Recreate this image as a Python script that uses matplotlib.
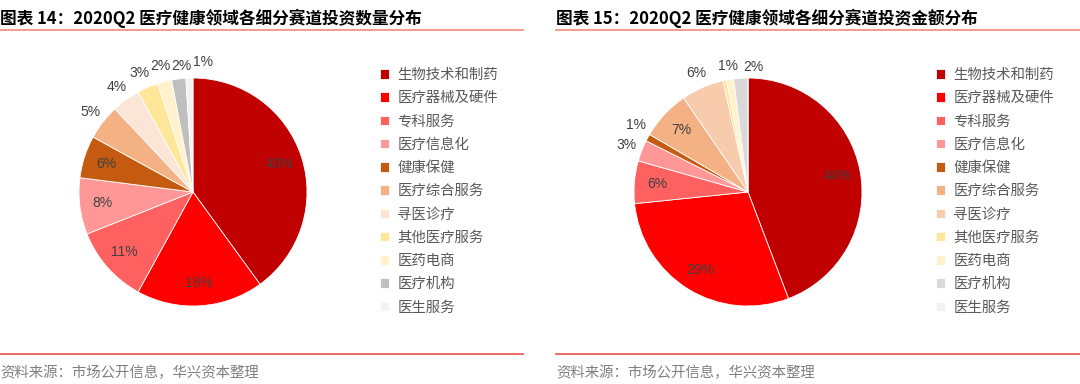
import matplotlib
matplotlib.use('Agg')
import matplotlib.pyplot as plt
import numpy as np

plt.rcParams['font.family'] = ['Noto Sans CJK SC', 'DejaVu Sans']

# Data
categories = ['生物技术和制药', '医疗器械及硬件', '专科服务', '医疗信息化', '健康保健',
              '医疗综合服务', '寻医诊疗', '其他医疗服务', '医药电商', '医疗机构', '医生服务']

count_share = [40, 18, 11, 8, 6, 5, 4, 3, 2, 2, 1]
count_labels = ['40%', '18%', '11%', '8%', '6%', '5%', '4%', '3%', '2%', '2%', '1%']

amount_share = [44, 29, 6, 3, 1, 7, 6, 0.5, 1, 2, 0]
amount_labels = ['44%', '29%', '6%', '3%', '1%', '7%', '6%', '', '1%', '2%', '']

left_colors = ['#C00000', '#FF0000', '#FF6161', '#FF9797', '#C55A11', '#F4B183',
               '#FBE5D6', '#FFE699', '#FFF2CC', '#BFBFBF', '#F2F2F2']
right_colors = ['#C00000', '#FF0000', '#FF6161', '#FF9797', '#C55A11', '#F4B183',
                '#F8CBAD', '#FFE699', '#FFF2CC', '#D9D9D9', '#F2F2F2']

titles = ['图表 14：2020Q2 医疗健康领域各细分赛道投资数量分布',
          '图表 15：2020Q2 医疗健康领域各细分赛道投资金额分布']
source = '资料来源：市场公开信息，华兴资本整理'

W, H = 1080, 384
fig = plt.figure(figsize=(W / 100, H / 100), dpi=100)


def px_axes(cx, cy, half):
    # square axes centred on pixel (cx, cy), top-left origin
    return fig.add_axes([(cx - half) / W, (H - cy - half) / H, 2 * half / W, 2 * half / H])


def draw_panel(x0, x1, cx, title, values, labels, colors, inside, nudges, legend_x):
    # title and rules
    fig.text(x0 / W, 1 - 18 / H, title, fontsize=12, fontweight='bold',
             color='#000000', ha='left', va='center')
    fig.add_artist(plt.Line2D([x0 / W, x1 / W], [1 - 30 / H] * 2, color='#F4877A', lw=1.2))
    fig.add_artist(plt.Line2D([x0 / W, x1 / W], [1 - 354 / H] * 2, color='#E8534A', lw=1.2))
    fig.text(x0 / W, 1 - 373 / H, source, fontsize=10.4, color='#7F7F7F',
             ha='left', va='center')

    r = 114
    half = 1.35 * r
    ax = px_axes(cx, 192, half)
    wedges, _ = ax.pie(values, colors=colors, startangle=90, counterclock=False,
                       radius=1, wedgeprops=dict(edgecolor='white', linewidth=0.6))
    ax.set_xlim(-half / r, half / r)
    ax.set_ylim(-half / r, half / r)
    ax.axis('off')

    for i, (w, lab) in enumerate(zip(wedges, labels)):
        if not lab:
            continue
        ang = np.deg2rad((w.theta1 + w.theta2) / 2)
        dist = 0.8 if i in inside else 1.14
        dx, dy = nudges.get(i, (0, 0))
        ax.text(dist * np.cos(ang) + dx, dist * np.sin(ang) + dy, lab,
                ha='center', va='center', fontsize=10, color='#404040',
                family='Liberation Sans')

    ax.legend(wedges, categories, loc='upper left', frameon=False,
              bbox_to_anchor=(legend_x / W, 1 - 68 / H), bbox_transform=fig.transFigure,
              fontsize=10.4, handlelength=0.65, handleheight=0.65, handletextpad=0.55,
              labelspacing=0.64, borderpad=0, borderaxespad=0, labelcolor='#595959')


draw_panel(0, 523, 193, titles[0], count_share, count_labels, left_colors,
           inside={0, 1, 2, 3, 4},
           nudges={7: (-0.02, 0.0), 8: (0.0, 0.0), 9: (0.04, -0.03), 10: (0.12, 0.0)},
           legend_x=380)
draw_panel(556, 1080, 748, titles[1], amount_share, amount_labels, right_colors,
           inside={0, 1, 2, 5},
           nudges={4: (0.02, 0.04), 8: (0.0, -0.02), 9: (0.12, -0.04)},
           legend_x=936)

fig.savefig('out.png', dpi=100)
